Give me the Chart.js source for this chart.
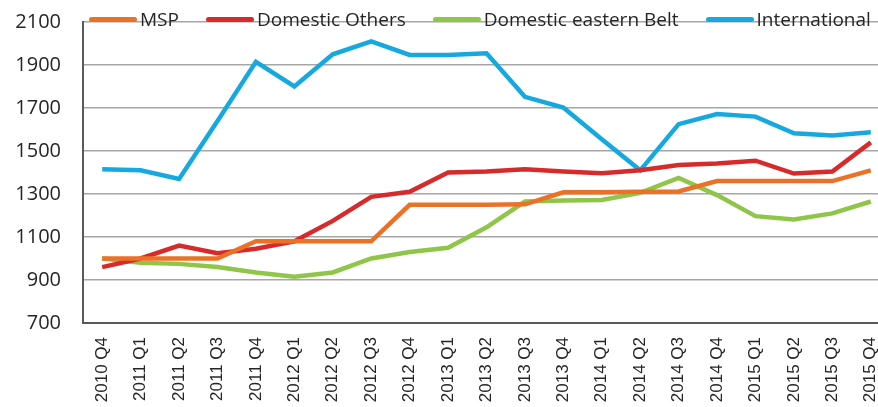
<!DOCTYPE html>
<html>

<head>
    <meta charset="utf-8">
    <title>Quarterly Index</title>
    <script src="https://cdn.jsdelivr.net/npm/chart.js"></script>
    <style>
        html, body {
            margin: 0;
            padding: 0;
            background: #ffffff;
            overflow: hidden;
        }

        #wrap {
            position: relative;
            width: 890px;
            height: 407px;
        }

        #legend {
            position: absolute;
            left: 89px;
            top: 6px;
            display: flex;
            gap: 27px;
            font-family: "Open Sans", sans-serif;
            font-size: 19px;
            color: #262626;
            white-space: nowrap;
        }

        #legend .item {
            display: flex;
            align-items: center;
        }

        #legend .swatch {
            width: 48px;
            height: 5px;
            border-radius: 2.5px;
            margin-right: 3px;
        }
    </style>
</head>

<body>
    <div id="wrap">
        <canvas id="myChart" width="890" height="407"></canvas>
        <div id="legend"></div>
    </div>

    <script>
        // quarter labels
        var quarters = ['2010 Q4', '2011 Q1', '2011 Q2', '2011 Q3', '2011 Q4', '2012 Q1', '2012 Q2',
            '2012 Q3', '2012 Q4', '2013 Q1', '2013 Q2', '2013 Q3', '2013 Q4', '2014 Q1', '2014 Q2',
            '2014 Q3', '2014 Q4', '2015 Q1', '2015 Q2', '2015 Q3', '2015 Q4'];

        var seriesNames = ['MSP', 'Domestic Others', 'Domestic eastern Belt', 'International'];
        var seriesColors = ['#eb7127', '#d72a2b', '#8fc64a', '#16a9e0'];

        var msp = [1000, 1000, 1000, 1000, 1080, 1080, 1080, 1080, 1250, 1250, 1250, 1252,
            1308, 1308, 1310, 1312, 1360, 1360, 1360, 1360, 1410];
        var domesticOthers = [960, 1000, 1060, 1025, 1045, 1080, 1175, 1287, 1310, 1400, 1405, 1415,
            1405, 1396, 1410, 1435, 1442, 1455, 1395, 1405, 1540];
        var domesticEastern = [1000, 980, 975, 960, 935, 915, 935, 1000, 1030, 1050, 1145, 1265,
            1270, 1272, 1305, 1375, 1295, 1197, 1182, 1210, 1265];
        var international = [1415, 1410, 1370, 1640, 1915, 1800, 1950, 2010, 1947, 1947, 1955, 1752,
            1702, 1555, 1410, 1625, 1672, 1660, 1582, 1572, 1587];

        // y axis
        var yMin = 700;
        var yMax = 2100;
        var yStep = 200;

        var allSeries = [msp, domesticOthers, domesticEastern, international];

        var datasets = [];
        for (var i = 0; i < allSeries.length; i++) {
            datasets.push({
                label: seriesNames[i],
                data: allSeries[i],
                borderColor: seriesColors[i],
                backgroundColor: seriesColors[i],
                borderWidth: 4.5,
                pointRadius: 0,
                tension: 0,
                fill: false
            });
        }

        // html legend
        var legend = document.getElementById('legend');
        seriesNames.forEach(function (name, i) {
            var item = document.createElement('div');
            item.className = 'item';
            var sw = document.createElement('span');
            sw.className = 'swatch';
            sw.style.background = seriesColors[i];
            var txt = document.createElement('span');
            txt.textContent = name;
            item.appendChild(sw);
            item.appendChild(txt);
            legend.appendChild(item);
        });

        var ctx = document.getElementById('myChart').getContext('2d');
        var chart = new Chart(ctx, {
            type: 'line',
            data: {
                labels: quarters,
                datasets: datasets
            },
            options: {
                responsive: false,
                animation: false,
                layout: {
                    padding: { top: 22, left: 0, right: 0, bottom: 0 }
                },
                plugins: {
                    legend: { display: false },
                    tooltip: { enabled: false }
                },
                scales: {
                    x: {
                        offset: true,
                        grid: { display: false, drawTicks: false },
                        border: { display: true, color: '#595959', width: 2 },
                        ticks: {
                            minRotation: 90,
                            maxRotation: 90,
                            padding: 14,
                            color: '#262626',
                            font: { family: '"Liberation Sans", Arial, sans-serif', size: 17 }
                        },
                        afterFit: function (scale) {
                            scale.height = 84;
                            scale.paddingLeft = 0;
                            scale.paddingRight = 0;
                        }
                    },
                    y: {
                        min: yMin,
                        max: yMax,
                        grid: { color: '#a6a6a6', lineWidth: 1.5, drawTicks: false },
                        border: { display: true, color: '#595959', width: 2 },
                        ticks: {
                            stepSize: yStep,
                            padding: 22,
                            color: '#262626',
                            font: { family: '"Open Sans", sans-serif', size: 20 },
                            callback: function (value) {
                                return String(value);
                            }
                        },
                        afterFit: function (scale) {
                            scale.width = 83;
                            scale.paddingTop = 0;
                            scale.paddingBottom = 0;
                        }
                    }
                }
            }
        });
    </script>
</body>

</html>
